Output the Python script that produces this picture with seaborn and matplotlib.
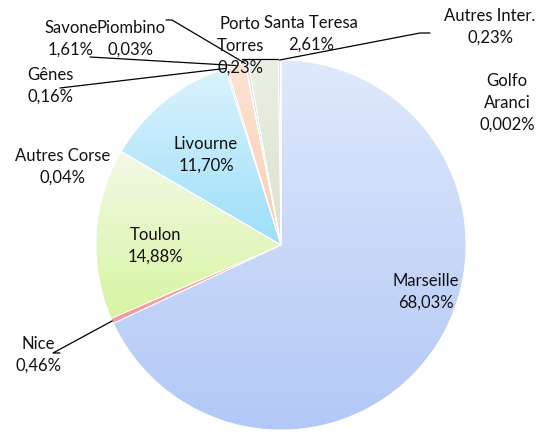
import numpy as np
import matplotlib
matplotlib.use("Agg")
import matplotlib.pyplot as plt
import seaborn as sns
from matplotlib.colors import LinearSegmentedColormap

# Données (parts en %)
ports = ["Marseille", "Nice", "Toulon", "Autres Corse", "Livourne", "Gênes",
         "Savone", "Piombino", "Porto Torres", "Santa Teresa", "Autres Inter.",
         "Golfo Aranci"]
parts = [68.03, 0.46, 14.88, 0.04, 11.70, 0.16, 1.61, 0.03, 0.23, 2.61, 0.23, 0.002]
etiquettes = ["Marseille\n68,03%", "Nice\n0,46%", "Toulon\n14,88%", "Autres Corse\n0,04%",
              "Livourne\n11,70%", "Gênes\n0,16%", "Savone\n1,61%", "Piombino\n0,03%",
              "Porto\nTorres\n0,23%", "Santa Teresa\n2,61%", "Autres Inter.\n0,23%",
              "Golfo\nAranci\n0,002%"]

# dégradés (haut, bas) de chaque part
degrades = [("#e0e9fc", "#b2c8f6"), ("#f6b2b2", "#f19a9a"), ("#f3f9e7", "#d7f5a0"),
            ("#fde9d6", "#f9d5b5"), ("#dbf3fd", "#9ddffa"), ("#dcdcf2", "#c8c8ea"),
            ("#fde4d5", "#fbcdb1"), ("#e4e4e4", "#d0d0d0"), ("#dde2ee", "#c9d0e2"),
            ("#ebefe3", "#dbe3cd"), ("#e2e2e2", "#cfcfcf"), ("#eeeeee", "#dddddd")]

sns.set_theme(style="white")
plt.rcParams['font.family'] = ['Lato', 'DejaVu Sans']

W, H = 552, 437
fig = plt.figure(figsize=(W / 100, H / 100), dpi=100)
ax = fig.add_axes([0, 0, 1, 1])

cx, cy, R = 281, H - 245, 185
wedges, _ = ax.pie(parts, startangle=90, counterclock=False, center=(cx, cy), radius=R,
                   wedgeprops=dict(edgecolor="white", linewidth=0.6), frame=True)

grad = np.linspace(0, 1, 256).reshape(-1, 1)
for w, (c1, c2) in zip(wedges, degrades):
    w.set_facecolor("none")
    ext = w.get_path().get_extents()
    cmap = LinearSegmentedColormap.from_list("g", [c1, c2])
    im = ax.imshow(grad, cmap=cmap, aspect="auto", origin="upper",
                   extent=(ext.x0, ext.x1, ext.y0, ext.y1), zorder=0.5)
    im.set_clip_path(w)

# positions des étiquettes (en pixels depuis le haut)
positions = {
    "Marseille": (426, 292), "Nice": (38, 355), "Toulon": (155, 246),
    "Autres Corse": (63, 167), "Livourne": (206, 155), "Gênes": (50, 86),
    "Savone": (71, 39), "Piombino": (131, 39), "Porto Torres": (240, 46),
    "Santa Teresa": (311, 34), "Autres Inter.": (490, 27), "Golfo Aranci": (507, 103),
}
for nom, lab in zip(ports, etiquettes):
    x, y = positions[nom]
    ax.text(x, H - y, lab, ha="center", va="center", fontsize=12,
            linespacing=1.45, color="#111111", zorder=5)

# lignes de rappel
cum = np.cumsum([0] + parts[:-1])
tot = sum(parts)
def bord(i):
    a = np.deg2rad(90 - 360 * (cum[i] + parts[i] / 2) / tot)
    return cx + R * np.cos(a), cy + R * np.sin(a)

rappels = {
    "Nice": [(53, 353), (60, 353)],
    "Gênes": [(60, 88)],
    "Savone": [(90, 57)],
    "Piombino": [(172, 20), (166, 20)],
    "Autres Inter.": [(420, 33), (430, 33)],
}
for nom, pts in rappels.items():
    i = ports.index(nom)
    xs, ys = zip(*([bord(i)] + [(px, H - py) for px, py in pts]))
    ax.plot(xs, ys, color="black", lw=0.9, zorder=4)
# petit trait au sommet (Porto Torres)
ax.plot([242, 278], [H - 59, H - 59], color="black", lw=0.9, zorder=4)

ax.set_xlim(0, W)
ax.set_ylim(0, H)
ax.set_aspect("equal")
ax.set_axis_off()

fig.savefig("out.png", dpi=100)
